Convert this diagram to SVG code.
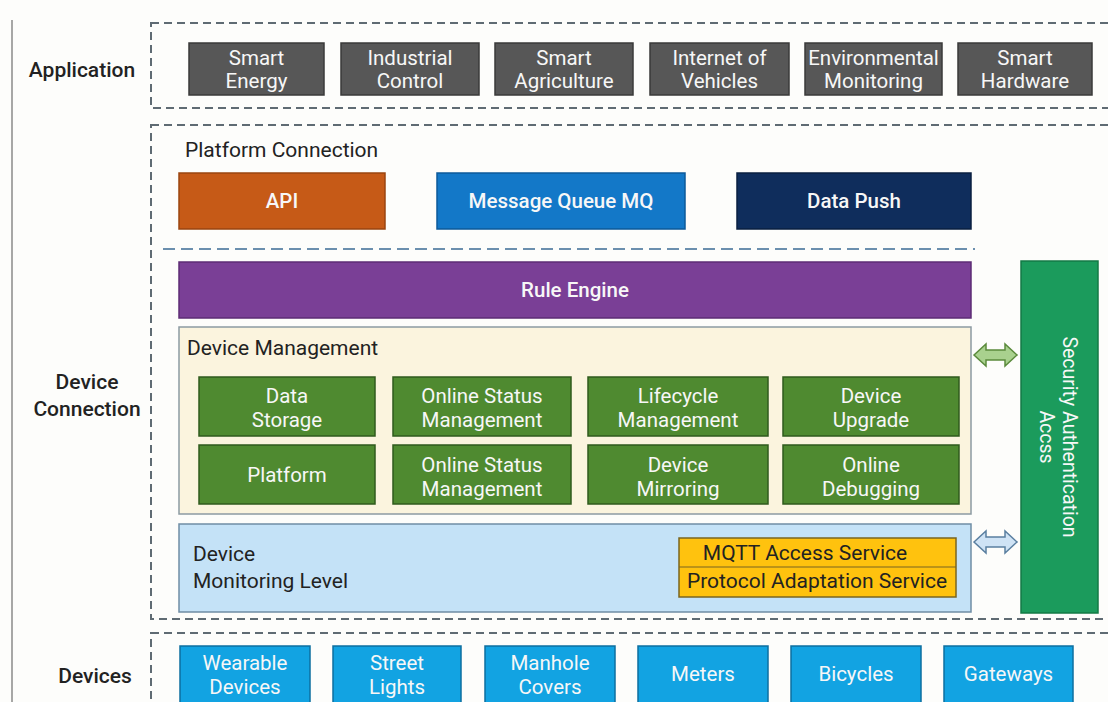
<svg xmlns="http://www.w3.org/2000/svg" width="1108" height="702" viewBox="0 0 1108 702">
<style>
text{font-family:Roboto,"Liberation Sans",sans-serif;}
.lbl{font-size:21px;fill:#222;}
.side{font-size:21px;fill:#222;text-anchor:middle;font-weight:500;}
.wt{font-size:20.5px;fill:#f7f7f7;text-anchor:middle;}
.dash{fill:none;stroke:#5f6b73;stroke-width:2;stroke-dasharray:8 5;}
.gray{fill:#575757;stroke:#3a3a3a;stroke-width:1.5;}
.green{fill:#4F8A30;stroke:#2f5a1c;stroke-width:1.5;}
.dev{fill:#12A3E2;stroke:#0d6fa0;stroke-width:1.5;}
</style>
<rect x="0" y="0" width="1108" height="702" fill="#FDFDFB"/>
<line x1="12" y1="20" x2="12" y2="702" stroke="#8a8a8a" stroke-width="1.5"/>

<g id="layers">
<rect class="dash" x="151" y="23" width="970" height="85"/>
<rect class="dash" x="151" y="125" width="970" height="494"/>
<rect class="dash" x="151" y="633" width="970" height="90"/>
<line x1="163" y1="249" x2="975" y2="249" stroke="#6b8fae" stroke-width="2" stroke-dasharray="12 6"/>
<text class="side" x="82" y="77" font-size="22">Application</text>
<text class="side" x="87" y="389">Device</text>
<text class="side" x="87" y="416">Connection</text>
<text class="side" x="95" y="683" font-size="22">Devices</text>
<text class="lbl" x="185" y="157">Platform Connection</text>
</g>

<g id="app-smart-energy"><rect class="gray" x="189" y="43" width="135" height="52"/><text class="wt" x="256.5" y="65">Smart</text><text class="wt" x="256.5" y="88">Energy</text></g>
<g id="app-industrial"><rect class="gray" x="341" y="43" width="138" height="52"/><text class="wt" x="410" y="65">Industrial</text><text class="wt" x="410" y="88">Control</text></g>
<g id="app-agriculture"><rect class="gray" x="495" y="43" width="138" height="52"/><text class="wt" x="564" y="65">Smart</text><text class="wt" x="564" y="88">Agriculture</text></g>
<g id="app-vehicles"><rect class="gray" x="650" y="43" width="139" height="52"/><text class="wt" x="719.5" y="65">Internet of</text><text class="wt" x="719.5" y="88">Vehicles</text></g>
<g id="app-environment"><rect class="gray" x="805" y="43" width="137" height="52"/><text class="wt" x="873.5" y="65">Environmental</text><text class="wt" x="873.5" y="88">Monitoring</text></g>
<g id="app-hardware"><rect class="gray" x="958" y="43" width="134" height="52"/><text class="wt" x="1025" y="65">Smart</text><text class="wt" x="1025" y="88">Hardware</text></g>

<g id="api"><rect x="179" y="173" width="206" height="56" fill="#C65A17" stroke="#9a4510" stroke-width="1.5"/><text class="wt" x="282" y="208" font-weight="500">API</text></g>
<g id="mq"><rect x="437" y="173" width="248" height="56" fill="#1378C8" stroke="#0c5a9a" stroke-width="1.5"/><text class="wt" x="561" y="208" font-weight="500">Message Queue MQ</text></g>
<g id="push"><rect x="737" y="173" width="234" height="56" fill="#0F2D5C" stroke="#0a1f40" stroke-width="1.5"/><text class="wt" x="854" y="208" font-weight="500">Data Push</text></g>

<g id="rule-engine"><rect x="179" y="262" width="792" height="56" fill="#7A3F96" stroke="#5d2d75" stroke-width="1.5"/><text class="wt" x="575" y="297" font-size="21" font-weight="500">Rule Engine</text></g>

<g id="device-management">
<rect x="179" y="327" width="792" height="187" fill="#FBF4DE" stroke="#8c9aa3" stroke-width="1.5"/>
<text class="lbl" x="187" y="355" font-size="20">Device Management</text>
</g>
<g id="dm-data-storage"><rect class="green" x="199" y="377" width="176" height="59"/><text class="wt" x="287" y="403">Data</text><text class="wt" x="287" y="427">Storage</text></g>
<g id="dm-online-status-1"><rect class="green" x="393" y="377" width="178" height="59"/><text class="wt" x="482" y="403">Online Status</text><text class="wt" x="482" y="427">Management</text></g>
<g id="dm-lifecycle"><rect class="green" x="588" y="377" width="180" height="59"/><text class="wt" x="678" y="403">Lifecycle</text><text class="wt" x="678" y="427">Management</text></g>
<g id="dm-upgrade"><rect class="green" x="783" y="377" width="176" height="59"/><text class="wt" x="871" y="403">Device</text><text class="wt" x="871" y="427">Upgrade</text></g>
<g id="dm-platform"><rect class="green" x="199" y="445" width="176" height="59"/><text class="wt" x="287" y="482">Platform</text></g>
<g id="dm-online-status-2"><rect class="green" x="393" y="445" width="178" height="59"/><text class="wt" x="482" y="472">Online Status</text><text class="wt" x="482" y="496">Management</text></g>
<g id="dm-mirroring"><rect class="green" x="588" y="445" width="180" height="59"/><text class="wt" x="678" y="472">Device</text><text class="wt" x="678" y="496">Mirroring</text></g>
<g id="dm-debugging"><rect class="green" x="783" y="445" width="176" height="59"/><text class="wt" x="871" y="472">Online</text><text class="wt" x="871" y="496">Debugging</text></g>

<g id="device-monitoring">
<rect x="179" y="524" width="792" height="88" fill="#C4E2F7" stroke="#6f8da5" stroke-width="1.5"/>
<text class="lbl" x="193" y="561">Device</text>
<text class="lbl" x="193" y="588">Monitoring Level</text>
</g>
<g id="mqtt-service">
<rect x="679" y="538" width="277" height="59" fill="#FFC20E" stroke="#7a6520" stroke-width="1.5"/>
<line x1="679" y1="567" x2="956" y2="567" stroke="#7a6520" stroke-width="1.2"/>
<text class="lbl" x="805" y="560" text-anchor="middle">MQTT Access Service</text>
<text class="lbl" x="817" y="588" text-anchor="middle">Protocol Adaptation Service</text>
</g>

<g id="security">
<rect x="1021" y="261" width="77" height="352" fill="#1B9B5C" stroke="#137a45" stroke-width="1.5"/>
<text transform="translate(1059,437) rotate(90)" text-anchor="middle" font-size="19.5" fill="#f7f7f7"><tspan x="0" y="-4">Security Authentication</tspan><tspan x="0" y="19">Accss</tspan></text>
</g>

<g id="dev-wearable"><rect class="dev" x="180" y="646" width="130" height="58"/><text class="wt" x="245" y="670">Wearable</text><text class="wt" x="245" y="694">Devices</text></g>
<g id="dev-street"><rect class="dev" x="333" y="646" width="128" height="58"/><text class="wt" x="397" y="670">Street</text><text class="wt" x="397" y="694">Lights</text></g>
<g id="dev-manhole"><rect class="dev" x="485" y="646" width="130" height="58"/><text class="wt" x="550" y="670">Manhole</text><text class="wt" x="550" y="694">Covers</text></g>
<g id="dev-meters"><rect class="dev" x="638" y="646" width="130" height="58"/><text class="wt" x="703" y="681">Meters</text></g>
<g id="dev-bicycles"><rect class="dev" x="791" y="646" width="130" height="58"/><text class="wt" x="856" y="681">Bicycles</text></g>
<g id="dev-gateways"><rect class="dev" x="944" y="646" width="129" height="58"/><text class="wt" x="1008.5" y="681">Gateways</text></g>

<g id="connectors">
<polygon points="974,355 986,344 986,350 1005,350 1005,344 1017,355 1005,366 1005,360 986,360 986,366" fill="#A9D18E" stroke="#5b8a3c" stroke-width="1.5"/>
<polygon points="974,542 986,531 986,537 1005,537 1005,531 1017,542 1005,553 1005,547 986,547 986,553" fill="#CFE3F5" stroke="#5a7fa0" stroke-width="1.5"/>
</g>
</svg>
